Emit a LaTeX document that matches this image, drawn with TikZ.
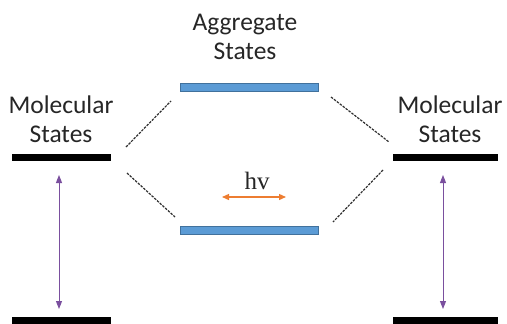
\documentclass[tikz,border=0pt]{standalone}
\usepackage{fontspec}
\setmainfont{Carlito}
\newfontfamily\serifhv{Liberation Serif}
\usetikzlibrary{arrows.meta}
\definecolor{molbar}{HTML}{000000}
\definecolor{aggfill}{HTML}{5B9BD5}
\definecolor{aggedge}{HTML}{41719C}
\definecolor{transarrow}{HTML}{7A4F9E}
\definecolor{photon}{HTML}{ED7D31}
\definecolor{dashgray}{HTML}{303030}
\tikzset{
  molstate/.style={rectangle, fill=molbar, inner sep=0pt, minimum height=7pt},
  aggstate/.style={rectangle, fill=aggfill, draw=aggedge, line width=0.6pt, inner sep=0pt, minimum width=138pt, minimum height=8pt},
  label text/.style={align=center, font=\fontsize{25.5}{29.5}\selectfont, text=black!85, inner sep=0pt},
  corr/.style={dashgray, line width=1.2pt, dash pattern=on 2.5pt off 1.2pt},
  transition/.style={transarrow, line width=1pt, {Triangle[length=8pt,width=6pt]}-{Triangle[length=8pt,width=6pt]}},
  photonarrow/.style={photon, line width=1.3pt, {Triangle[length=7pt,width=6pt]}-{Triangle[length=7pt,width=6pt]}}
}
\begin{document}
\begin{tikzpicture}[x=1pt,y=-1pt]
\useasboundingbox (0,0) rectangle (507,324);
% molecular levels
\node[molstate, minimum width=99pt] (lt) at (61.5,157.5) {};
\node[molstate, minimum width=99pt] (lb) at (61.5,320.5) {};
\node[molstate, minimum width=105pt] (rt) at (445,157.5) {};
\node[molstate, minimum width=105pt] (rb) at (445.5,320.5) {};
% aggregate levels
\node[aggstate] (at) at (249,87.5) {};
\node[aggstate] (ab) at (249,230.5) {};
% labels
\node[label text] (ltxt) at (61,119) {Molecular\\States};
\node[label text] (rtxt) at (450,119) {Molecular\\States};
\node[label text] (atxt) at (245,37) {Aggregate\\States};
\node[font=\serifhv\fontsize{25}{28}\selectfont, text=black!85, inner sep=0pt] (hv) at (257,181) {hv};
% correlation lines
\coordinate (l1) at (126,147); \coordinate (l2) at (171,101);
\coordinate (l3) at (127,173); \coordinate (l4) at (175,217);
\coordinate (r1) at (331,97);  \coordinate (r2) at (389,142);
\coordinate (r3) at (383,170); \coordinate (r4) at (333,222);
\draw[corr] (l1) -- (l2);
\draw[corr] (l3) -- (l4);
\draw[corr] (r1) -- (r2);
\draw[corr] (r3) -- (r4);
% transitions
\coordinate (la) at (59,175); \coordinate (lz) at (59,309);
\coordinate (ra) at (443,175); \coordinate (rz) at (443,309);
\draw[transition] (la) -- (lz);
\draw[transition] (ra) -- (rz);
\coordinate (p1) at (222,197); \coordinate (p2) at (286,197);
\draw[photonarrow] (p1) -- (p2);
\end{tikzpicture}
\end{document}
